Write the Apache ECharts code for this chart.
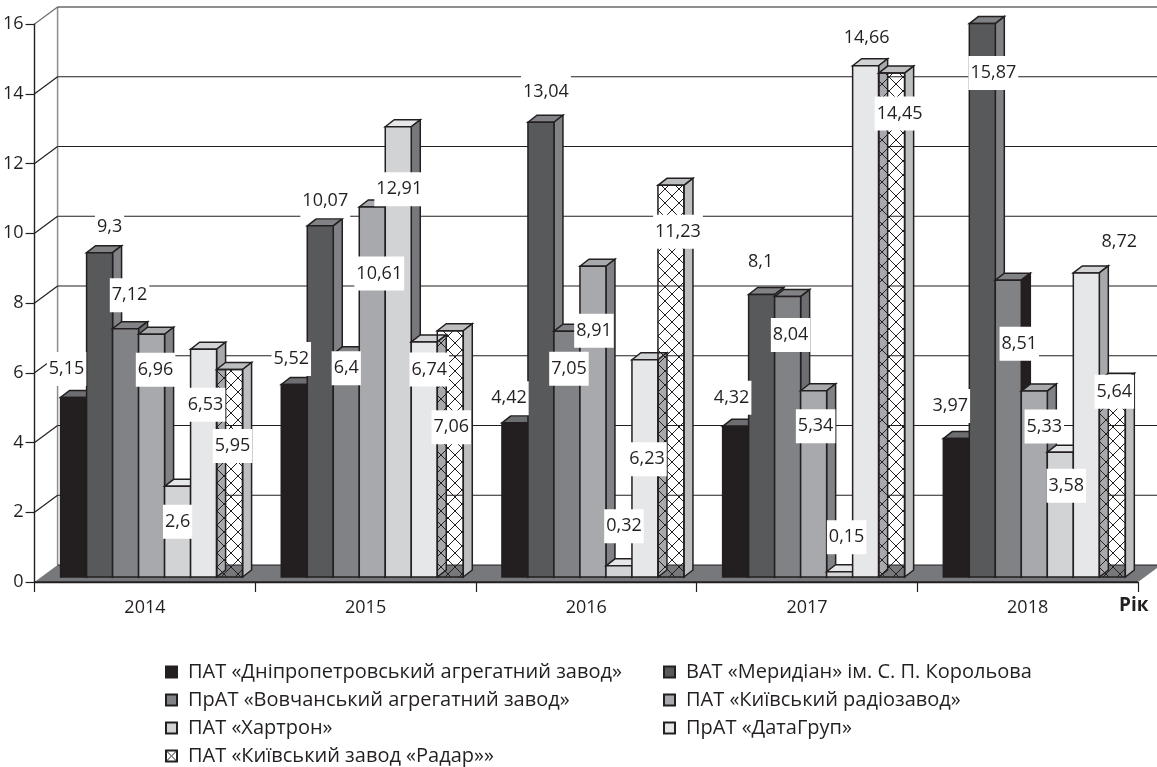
<!DOCTYPE html>
<html><head><meta charset="utf-8">
<style>html,body{margin:0;padding:0;background:#fff}#c{width:1157px;height:767px}</style>
<script src="https://cdn.jsdelivr.net/npm/echarts@6/dist/echarts.min.js"></script>
</head><body><div id="c"></div>
<script>
const years = ['2014','2015','2016','2017','2018'];
const yTicks = [0,2,4,6,8,10,12,14,16];
const names = [
 'ПАТ «Дніпропетровський агрегатний завод»',
 'ВАТ «Меридіан» ім. С. П. Корольова',
 'ПрАТ «Вовчанський агрегатний завод»',
 'ПАТ «Київський радіозавод»',
 'ПАТ «Хартрон»',
 'ПрАТ «ДатаГруп»',
 'ПАТ «Київський завод «Радар»»'
];
const dnipro  = [5.15,5.52,4.42,4.32,3.97];
const meridian= [9.3,10.07,13.04,8.1,15.87];
const vovchansk=[7.12,6.4,7.05,8.04,8.51];
const radio   = [6.96,10.61,8.91,5.34,5.33];
const hartron = [2.6,12.91,0.32,0.15,3.58];
const datagroup=[6.53,6.74,6.23,14.66,8.72];
const radar   = [5.95,7.06,11.23,14.45,5.64];
const allValues=[dnipro,meridian,vovchansk,radio,hartron,datagroup,radar];

// label placement relative to each bar's top-centre, [dx,dy] per series per year
const labelNudge=[
 [[-7,-30],[-3,-27],[-6,-26],[-4,-30],[-6,-34]],
 [[10,-27],[5,-26],[5,-32],[-1,-34],[11,48]],
 [[4,-35],[0,13],[2,36],[3,37],[11,62]],
 [[4,34],[7,65],[1,63],[2,34],[10,34]],
 [[0,34],[1,61],[5,-41],[7,-36],[6,32]],
 [[2,54],[5,26],[2,98],[1,-29],[33,-33]],
 [[3,75],[1,95],[7,45],[8,39],[2,10]]
];

const FRONT=['#231f20','#58595b','#808285','#a7a9ac','#d1d3d4','#e6e7e8','none'];
const TOP  =['#6d6e71','#808285','#808285','#a7a9ac','#e6e7e8','#d1d3d4','#bcbec0'];
const SIDE =['#231f20','#808285','#6d6e71','#808285','#77787b','#a7a9ac','#bcbec0'];
const INK='#231f20';
const WALL_DX=23, WALL_DY=-17;   // depth of the chart box
const BAR_DX=9, BAR_DY=-7;       // depth of a bar
const BAR_SHIFT_Y=-5, BAR_W=26, GROUP_PAD=26;

function hatchCanvas(size,bg){
  const c=document.createElement('canvas');c.width=c.height=size;
  const g=c.getContext('2d');
  if(bg){g.fillStyle=bg;g.fillRect(0,0,size,size);}
  g.strokeStyle=INK;g.lineWidth=1;
  g.beginPath();g.moveTo(0,0);g.lineTo(size,size);g.moveTo(size,0);g.lineTo(0,size);g.stroke();
  return c;
}
const hatch=hatchCanvas(14);
const legendHatch=hatchCanvas(11,'#fff');

function barItem(si){
  return function(params,api){
    const gi=api.value(0), v=api.value(1);
    const cw=api.size([1,0])[0];
    const cx=api.coord([gi,0])[0];
    const base=api.coord([gi,0])[1]+BAR_SHIFT_Y;
    const top=api.coord([gi,v])[1]+BAR_SHIFT_Y;
    const x=cx-cw/2+GROUP_PAD+si*BAR_W, w=BAR_W;
    const line={stroke:INK,lineWidth:1.5};
    const sideFill=(si===2&&gi===4)?INK:SIDE[si];
    const kids=[];
    kids.push({type:'polygon',shape:{points:[[x,top],[x+BAR_DX,top+BAR_DY],[x+w+BAR_DX,top+BAR_DY],[x+w,top]]},style:{fill:TOP[si],...line}});
    kids.push({type:'polygon',shape:{points:[[x+w,top],[x+w+BAR_DX,top+BAR_DY],[x+w+BAR_DX,base+BAR_DY],[x+w,base]]},style:{fill:sideFill,...line}});
    kids.push({type:'rect',shape:{x:x,y:top,width:w,height:base-top},style:{fill:si===6?{image:hatch,repeat:'repeat'}:FRONT[si],...line}});
    return {type:'group',children:kids};
  };
}

const series=[];
// back wall and floor
series.push({
  type:'custom',name:'wall',silent:true,z:1,clip:false,
  data:yTicks.map(t=>[0,t]),
  renderItem(params,api){
    const cs=params.coordSys, t=api.value(1), y=api.coord([0,t])[1];
    const x0=cs.x, x1=cs.x+cs.width;
    const kids=[];
    if(t===0){
      const yb=y+WALL_DY, yTop=api.coord([0,16])[1]+WALL_DY;
      kids.push({type:'line',shape:{x1:x0+WALL_DX,y1:yTop,x2:x0+WALL_DX,y2:yb},style:{stroke:'#8a8c8e',lineWidth:1.5}});
      kids.push({type:'polygon',shape:{points:[[x0,y],[x1,y],[x1+WALL_DX,yb],[x0+WALL_DX,yb]]},style:{fill:'#77787b',stroke:null}});
      kids.push({type:'line',shape:{x1:x0+WALL_DX,y1:yb,x2:x1+WALL_DX,y2:yb},style:{stroke:INK,lineWidth:1}});
      kids.push({type:'line',shape:{x1:x0,y1:y,x2:x1,y2:y},style:{stroke:INK,lineWidth:1.4}});
    } else {
      kids.push({type:'line',shape:{x1:x0,y1:y,x2:x0+WALL_DX,y2:y+WALL_DY},style:{stroke:t===16?'#6d6e71':INK,lineWidth:1.2}});
      kids.push({type:'line',shape:{x1:x0+WALL_DX,y1:y+WALL_DY,x2:x1+WALL_DX,y2:y+WALL_DY},style:{stroke:INK,lineWidth:1.2}});
    }
    return {type:'group',children:kids};
  }
});
// seven bar series
allValues.forEach((vals,si)=>{
  series.push({
    type:'custom',name:names[si],z:3,clip:false,silent:true,
    itemStyle:{color:si===6?'#fff':FRONT[si],borderColor:INK,borderWidth:1},
    data:vals.map((v,i)=>[i,v]),
    renderItem:barItem(si)
  });
});
// value labels over everything
const labelRows=[];
allValues.forEach((vals,si)=>vals.forEach((v,gi)=>labelRows.push([gi,v,si,labelNudge[si][gi][0],labelNudge[si][gi][1]])));
series.push({
  type:'custom',name:'labels',z:5,clip:false,silent:true,
  data:labelRows,
  renderItem(params,api){
    const gi=api.value(0),v=api.value(1),si=api.value(2);
    const cw=api.size([1,0])[0], cx=api.coord([gi,0])[0];
    const x=cx-cw/2+GROUP_PAD+si*BAR_W+BAR_W/2+api.value(3);
    const y=api.coord([gi,v])[1]+BAR_SHIFT_Y+api.value(4)+1.5;
    return {type:'text',x:x,y:y,style:{
      text:String(v).replace('.',','),
      x:0,y:0,align:'center',verticalAlign:'middle',
      font:'18px "Open Sans"',fill:INK,
      backgroundColor:'#fff',padding:[8,2,8,2]
    }};
  }
});

const legendBase={
  orient:'vertical',itemWidth:11,itemHeight:11,itemGap:0,selectedMode:false,height:112,
  icon:'rect',textStyle:{fontFamily:'Open Sans',fontSize:20,color:INK,padding:[0,0,0,6],lineHeight:28},
  inactiveColor:'#ccc'
};
const chart=echarts.init(document.getElementById('c'),null,{renderer:'canvas'});
chart.setOption({
  animation:false,backgroundColor:'#fff',
  grid:{left:34,right:19,top:24,bottom:185,containLabel:false},
  xAxis:{type:'category',data:years,
    axisLine:{lineStyle:{color:INK,width:1.4}},
    axisTick:{show:true,length:10,lineStyle:{color:INK,width:1.2}},
    axisLabel:{color:INK,fontFamily:'Open Sans',fontSize:18,margin:17},
    name:'Рік',nameLocation:'end',nameGap:-19,
    nameTextStyle:{color:INK,fontFamily:'Open Sans',fontSize:19,fontWeight:'bold',align:'left',verticalAlign:'top',padding:[14,0,0,0]}
  },
  yAxis:{type:'value',min:0,max:16,interval:2,
    axisLine:{show:true,lineStyle:{color:INK,width:1.4}},
    axisTick:{show:true,length:9,lineStyle:{color:INK,width:1.2}},
    axisLabel:{color:INK,fontFamily:'Open Sans',fontSize:18,margin:11},
    splitLine:{show:false}
  },
  legend:[
    {...legendBase,left:160,top:653,data:[names[0],names[2],names[4],{name:names[6],itemStyle:{color:{image:legendHatch,repeat:'repeat'},borderColor:INK}}]},
    {...legendBase,left:658,top:653,data:[names[1],names[3],names[5]]}
  ],
  series:series
});
</script></body></html>
